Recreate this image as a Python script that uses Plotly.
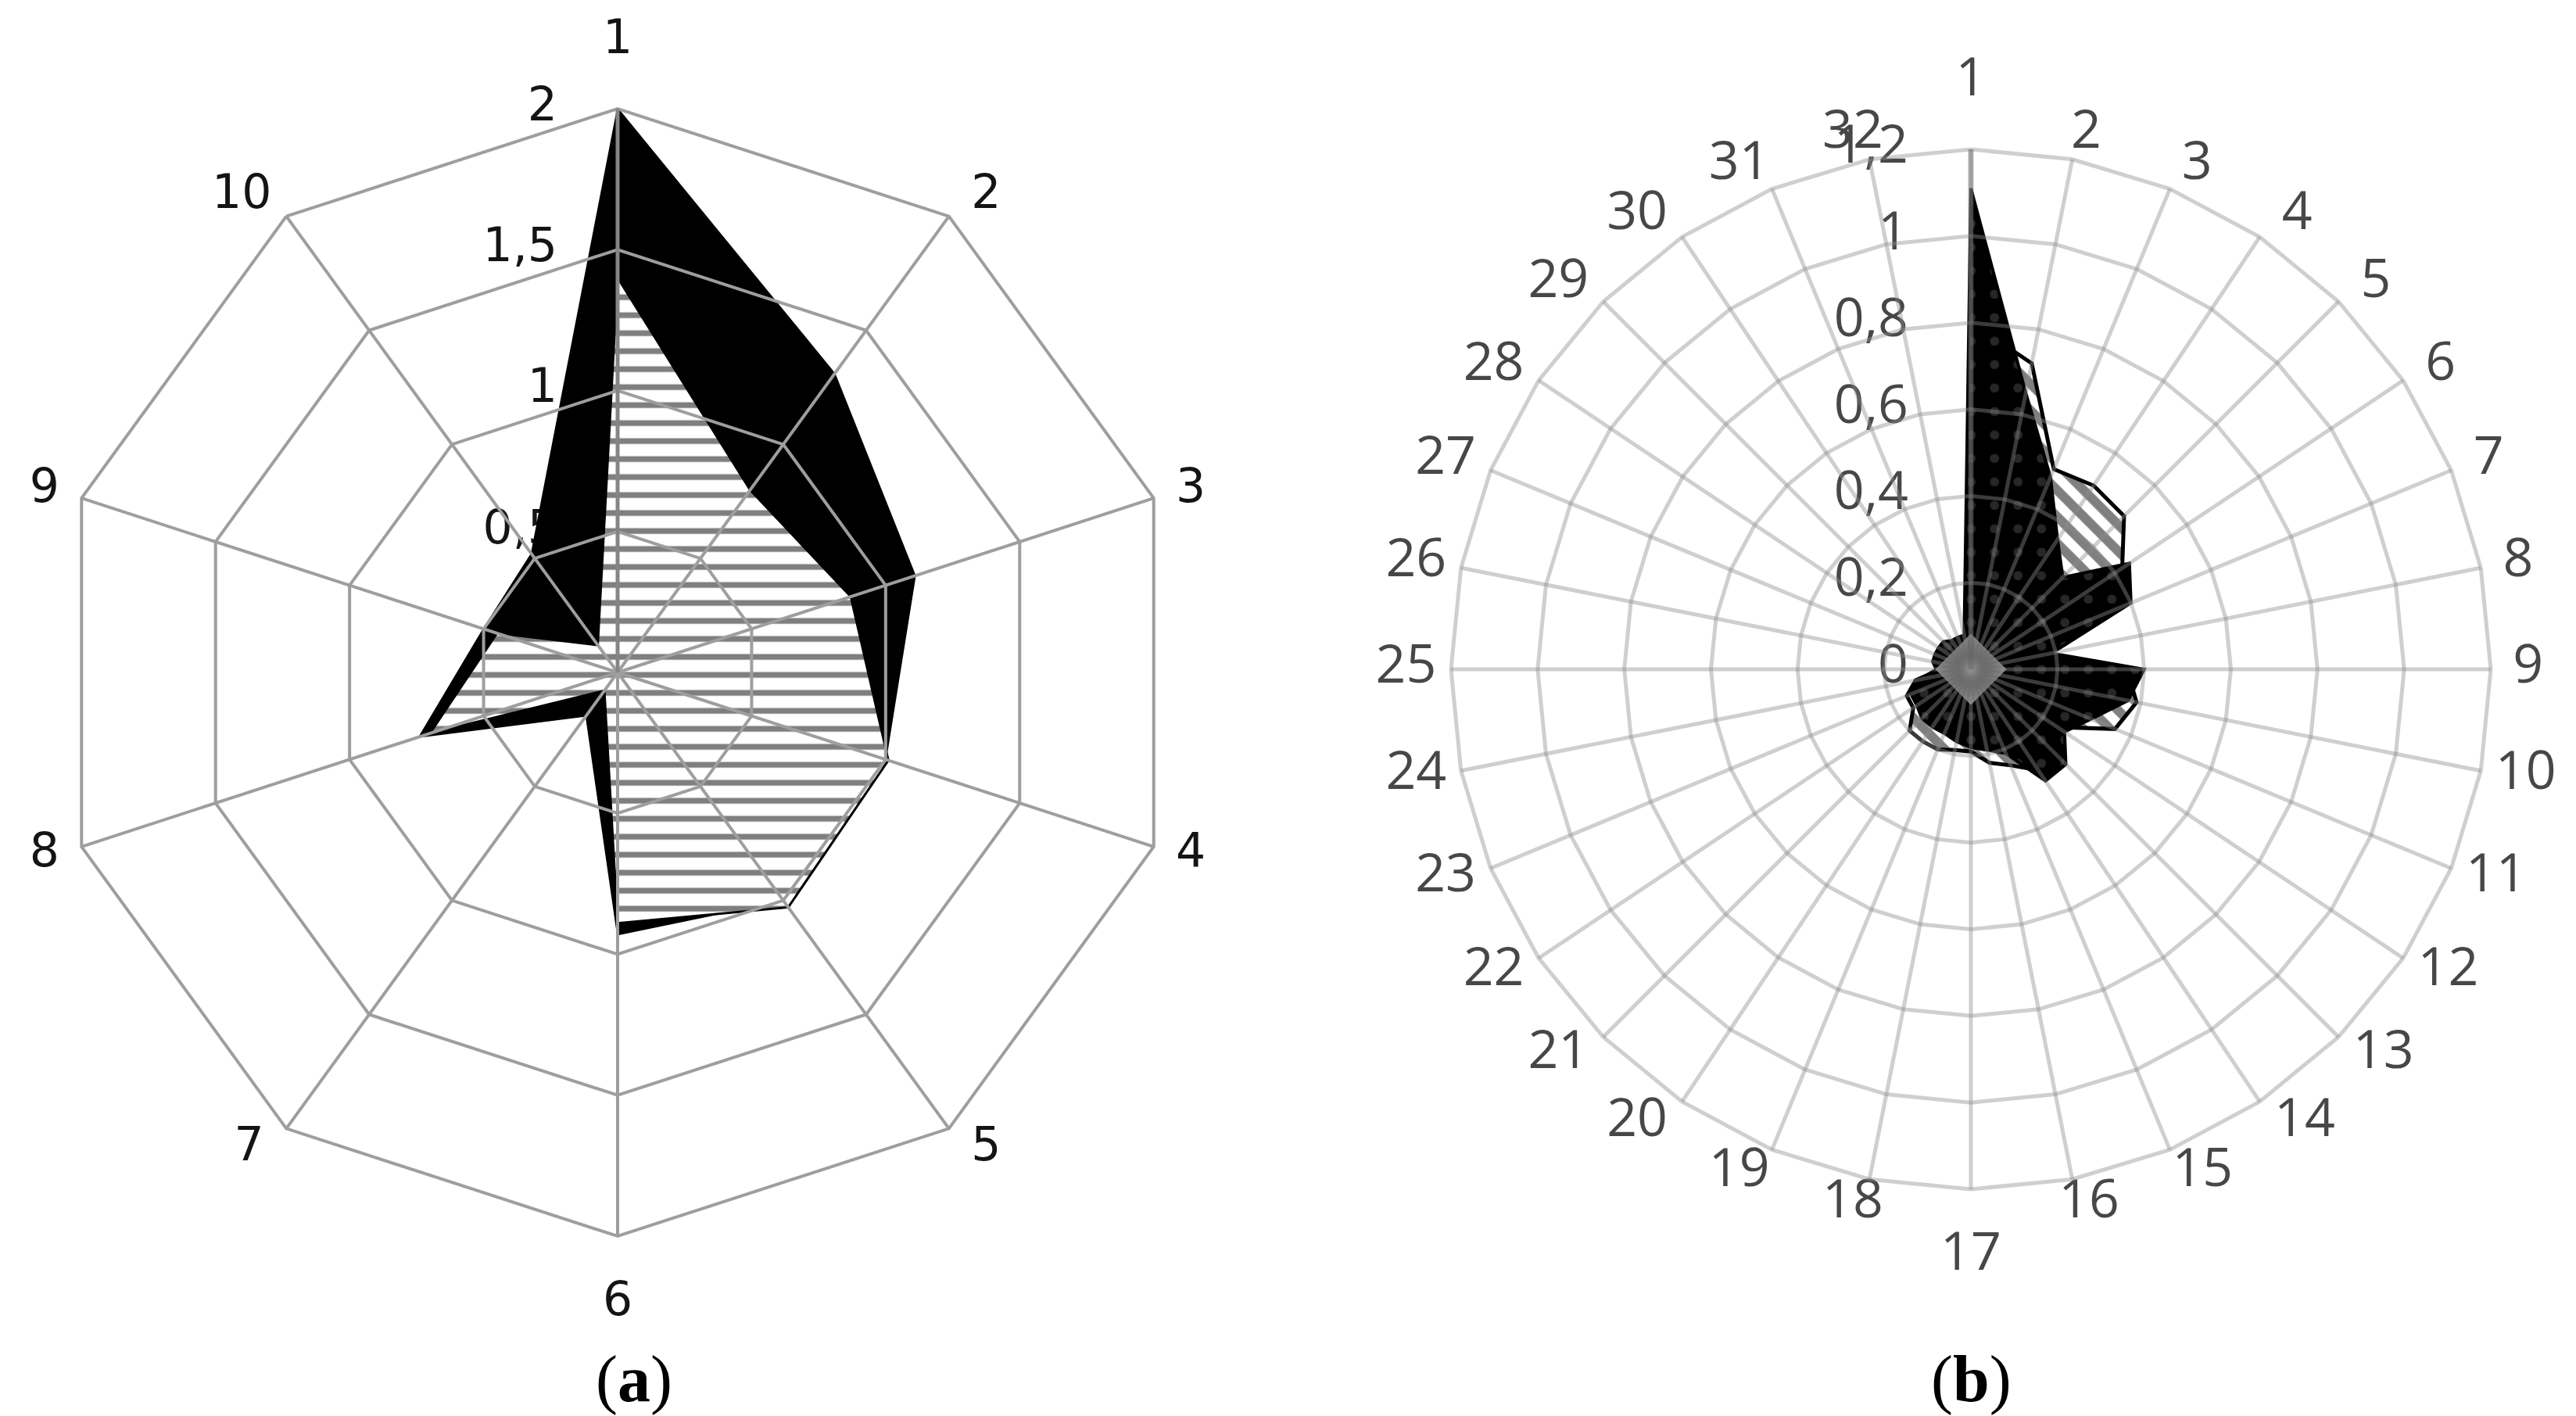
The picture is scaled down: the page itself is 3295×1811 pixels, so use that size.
import math
import plotly.graph_objects as go

# ---------------- Panel (a): 10-axis radar, range 0..2 ----------------
a_categories = [str(i) for i in range(1, 11)]
a_black = [2.0, 1.31, 1.11, 1.0, 1.0, 0.93, 0.19, 0.74, 0.50, 0.52]
a_hatched = [1.40, 0.80, 0.87, 1.01, 1.03, 0.89, 0.08, 0.70, 0.45, 0.12]
a_tickvals = [0, 0.5, 1, 1.5, 2]
a_ticktext = ["0", "0,5", "1", "1,5", "2"]

# ---------------- Panel (b): 32-axis radar, range 0..1.2 ----------------
b_categories = [str(i) for i in range(1, 33)]
b_dotted = [1.11, 0.65, 0.48, 0.36, 0.30, 0.44, 0.40, 0.19, 0.40, 0.37, 0.30, 0.26,
            0.31, 0.31, 0.21, 0.19, 0.18, 0.17, 0.16, 0.16, 0.16, 0.15, 0.15, 0.12,
            0.08, 0.09, 0.09, 0.09, 0.09, 0.08, 0.08, 0.08]
b_hatched = [0.80, 0.72, 0.50, 0.51, 0.50, 0.42, 0.30, 0.17, 0.36, 0.39, 0.36, 0.24,
             0.26, 0.28, 0.24, 0.22, 0.19, 0.19, 0.20, 0.20, 0.20, 0.16, 0.16, 0.13,
             0.07, 0.07, 0.07, 0.07, 0.07, 0.07, 0.07, 0.07]
b_center = [0]
b_tickvals = [0, 0.2, 0.4, 0.6, 0.8, 1.0, 1.2]
b_ticktext = ["0", "0,2", "0,4", "0,6", "0,8", "1", "1,2"]

captions = ["(<b>a</b>)", "(<b>b</b>)"]

W, H = 3295, 1811

# geometry of the two panels (pixel centre and outer radius)
A_CX, A_CY, A_R = 782, 852, 721
B_CX, B_CY, B_R = 2513, 848, 665
A_MAX, B_MAX = 2.0, 1.2
A_PPU = A_R / A_MAX      # pixels per data unit
B_PPU = B_R / B_MAX
A_XSPAN, A_YSPAN = 2.15, 2.32   # cartesian half-ranges (room for labels)
B_XSPAN, B_YSPAN = 1.38, 1.38


def radar_xy(vals):
    """Radar values -> cartesian (clockwise from top), closed polygon."""
    n = len(vals)
    xs, ys = [], []
    for k in list(range(n)) + [0]:
        ang = 2 * math.pi * k / n
        xs.append(vals[k] * math.sin(ang))
        ys.append(vals[k] * math.cos(ang))
    return xs, ys


def label_xy(cats, rmax, ppu, digit_px):
    """Category label positions just outside the outer ring."""
    n = len(cats)
    xs, ys = [], []
    for k, lab in enumerate(cats):
        ang = 2 * math.pi * k / n
        s, c = math.sin(ang), math.cos(ang)
        hw = 0.5 * len(lab) * digit_px
        if abs(s) < 1e-6:
            dx, dy = 0.0, 86.0 * (1 if c > 0 else -1)
        else:
            dx = math.copysign((0.5 * hw + 38) * min(1.0, 1.9 * abs(s)), s)
            dy = 32.0 * c
        xs.append(rmax * s + dx / ppu)
        ys.append(rmax * c + dy / ppu)
    return xs, ys


def dom(cx, cy, rad):
    return dict(x=[(cx - rad) / W, (cx + rad) / W],
                y=[(H - cy - rad) / H, (H - cy + rad) / H])


def dom_xy(cx, cy, hx, hy):
    return dict(x=[(cx - hx) / W, (cx + hx) / W],
                y=[(H - cy - hy) / H, (H - cy + hy) / H])


dom_a = dom(A_CX, A_CY, A_R)
dom_b = dom(B_CX, B_CY, B_R)
cdom_a = dom_xy(A_CX, A_CY, A_XSPAN * A_PPU, A_YSPAN * A_PPU)
cdom_b = dom_xy(B_CX, B_CY, B_XSPAN * B_PPU, B_YSPAN * B_PPU)

a_font = dict(family="DejaVu Sans", size=60, color="#141414")
b_font = dict(family="Open Sans", size=68, color="#474747")

fig = go.Figure()

# ---- panel (a) radial tick labels (beneath the fills, as in the original) ----
fig.add_trace(go.Scatter(x=[-77 / A_PPU] * len(a_tickvals), y=a_tickvals, text=a_ticktext,
                         mode="text", textposition="middle left", textfont=a_font,
                         cliponaxis=False, xaxis="x", yaxis="y",
                         showlegend=False, hoverinfo="skip"))
# ---- panel (a) category labels ----
lx, ly = label_xy(a_categories, A_MAX, A_PPU, 38)
fig.add_trace(go.Scatter(x=lx, y=ly, text=a_categories, mode="text",
                         textposition="middle center", textfont=a_font, cliponaxis=False,
                         xaxis="x", yaxis="y", showlegend=False, hoverinfo="skip"))

# ---- panel (a) filled series (cartesian layer, beneath the polar grid) ----
x, y = radar_xy(a_black)
fig.add_trace(go.Scatter(x=x, y=y, mode="lines", fill="toself", fillcolor="black",
                         line=dict(color="black", width=2), xaxis="x", yaxis="y",
                         showlegend=False, hoverinfo="skip"))
x, y = radar_xy(a_hatched)
fig.add_trace(go.Scatter(x=x, y=y, mode="lines", fill="toself", fillcolor="white",
                         fillpattern=dict(shape="-", fgcolor="black", bgcolor="white",
                                          size=23, solidity=0.32),
                         line=dict(color="black", width=3), xaxis="x", yaxis="y",
                         showlegend=False, hoverinfo="skip"))

# ---- panel (b) labels ----
fig.add_trace(go.Scatter(x=[-80 / B_PPU] * len(b_tickvals), y=b_tickvals, text=b_ticktext,
                         mode="text", textposition="middle left", textfont=b_font,
                         cliponaxis=False, xaxis="x2", yaxis="y2",
                         showlegend=False, hoverinfo="skip"))
lx, ly = label_xy(b_categories, B_MAX, B_PPU, 39)
fig.add_trace(go.Scatter(x=lx, y=ly, text=b_categories, mode="text",
                         textposition="middle center", textfont=b_font, cliponaxis=False,
                         xaxis="x2", yaxis="y2", showlegend=False, hoverinfo="skip"))

# ---- panel (b) filled series ----
x, y = radar_xy(b_hatched)
fig.add_trace(go.Scatter(x=x, y=y, mode="lines", fill="toself", fillcolor="white",
                         fillpattern=dict(shape="\\", fgcolor="black", bgcolor="white",
                                          size=24, solidity=0.5),
                         line=dict(color="black", width=5), xaxis="x2", yaxis="y2",
                         showlegend=False, hoverinfo="skip"))
x, y = radar_xy(b_dotted)
fig.add_trace(go.Scatter(x=x, y=y, mode="lines", fill="toself", fillcolor="black",
                         fillpattern=dict(shape=".", fgcolor="#4d4d4d", bgcolor="black",
                                          size=30, solidity=0.12),
                         line=dict(color="black", width=4), xaxis="x2", yaxis="y2",
                         showlegend=False, hoverinfo="skip"))
fig.add_trace(go.Scatter(x=b_center, y=b_center, mode="markers",
                         marker=dict(symbol="diamond", size=70, color="#8c8c8c",
                                     gradient=dict(type="radial", color="#222222"),
                                     line=dict(width=0)),
                         xaxis="x2", yaxis="y2", showlegend=False, hoverinfo="skip"))

# ---- polar subplots: only the grid, drawn above the fills ----
fig.add_trace(go.Scatterpolar(r=a_black, theta=a_categories, mode="lines", opacity=0,
                              subplot="polar", showlegend=False, hoverinfo="skip"))
fig.add_trace(go.Scatterpolar(r=b_dotted, theta=b_categories, mode="lines", opacity=0,
                              subplot="polar2", showlegend=False, hoverinfo="skip"))

hidden = dict(visible=False, fixedrange=True)
a_grid = "#9e9e9e"
b_grid = "rgba(140,140,140,0.42)"
cap_font = dict(family="Liberation Serif", size=84, color="black")

fig.update_layout(
    width=W, height=H,
    margin=dict(l=0, r=0, t=0, b=0),
    paper_bgcolor="white", plot_bgcolor="white",
    xaxis=dict(domain=cdom_a["x"], range=[-A_XSPAN, A_XSPAN], anchor="y", **hidden),
    yaxis=dict(domain=cdom_a["y"], range=[-A_YSPAN, A_YSPAN], anchor="x", **hidden),
    xaxis2=dict(domain=cdom_b["x"], range=[-B_XSPAN, B_XSPAN], anchor="y2", **hidden),
    yaxis2=dict(domain=cdom_b["y"], range=[-B_YSPAN, B_YSPAN], anchor="x2", **hidden),
    polar=dict(
        domain=dom_a, gridshape="linear", bgcolor="rgba(0,0,0,0)",
        radialaxis=dict(range=[0, A_MAX], tickvals=a_tickvals, showticklabels=False,
                        ticks="", angle=90, showgrid=True, gridcolor=a_grid, gridwidth=4,
                        showline=True, linecolor="#858585", linewidth=5),
        angularaxis=dict(rotation=90, direction="clockwise", showgrid=True,
                         gridcolor=a_grid, gridwidth=4, showline=True,
                         linecolor=a_grid, linewidth=4, showticklabels=False, ticks=""),
    ),
    polar2=dict(
        domain=dom_b, gridshape="linear", bgcolor="rgba(0,0,0,0)",
        radialaxis=dict(range=[0, B_MAX], tickvals=b_tickvals, showticklabels=False,
                        ticks="", angle=90, showgrid=True, gridcolor=b_grid, gridwidth=5,
                        showline=True, linecolor="rgba(100,100,100,0.45)", linewidth=7),
        angularaxis=dict(rotation=90, direction="clockwise", showgrid=True,
                         gridcolor=b_grid, gridwidth=5, showline=True,
                         linecolor=b_grid, linewidth=5, showticklabels=False, ticks=""),
    ),
    annotations=[
        dict(text=captions[0], x=803 / W, y=(H - 1756) / H, xref="paper", yref="paper",
             xanchor="center", yanchor="middle", showarrow=False, font=cap_font),
        dict(text=captions[1], x=2513 / W, y=(H - 1756) / H, xref="paper", yref="paper",
             xanchor="center", yanchor="middle", showarrow=False, font=cap_font),
    ],
)

fig.write_html("out.html")
